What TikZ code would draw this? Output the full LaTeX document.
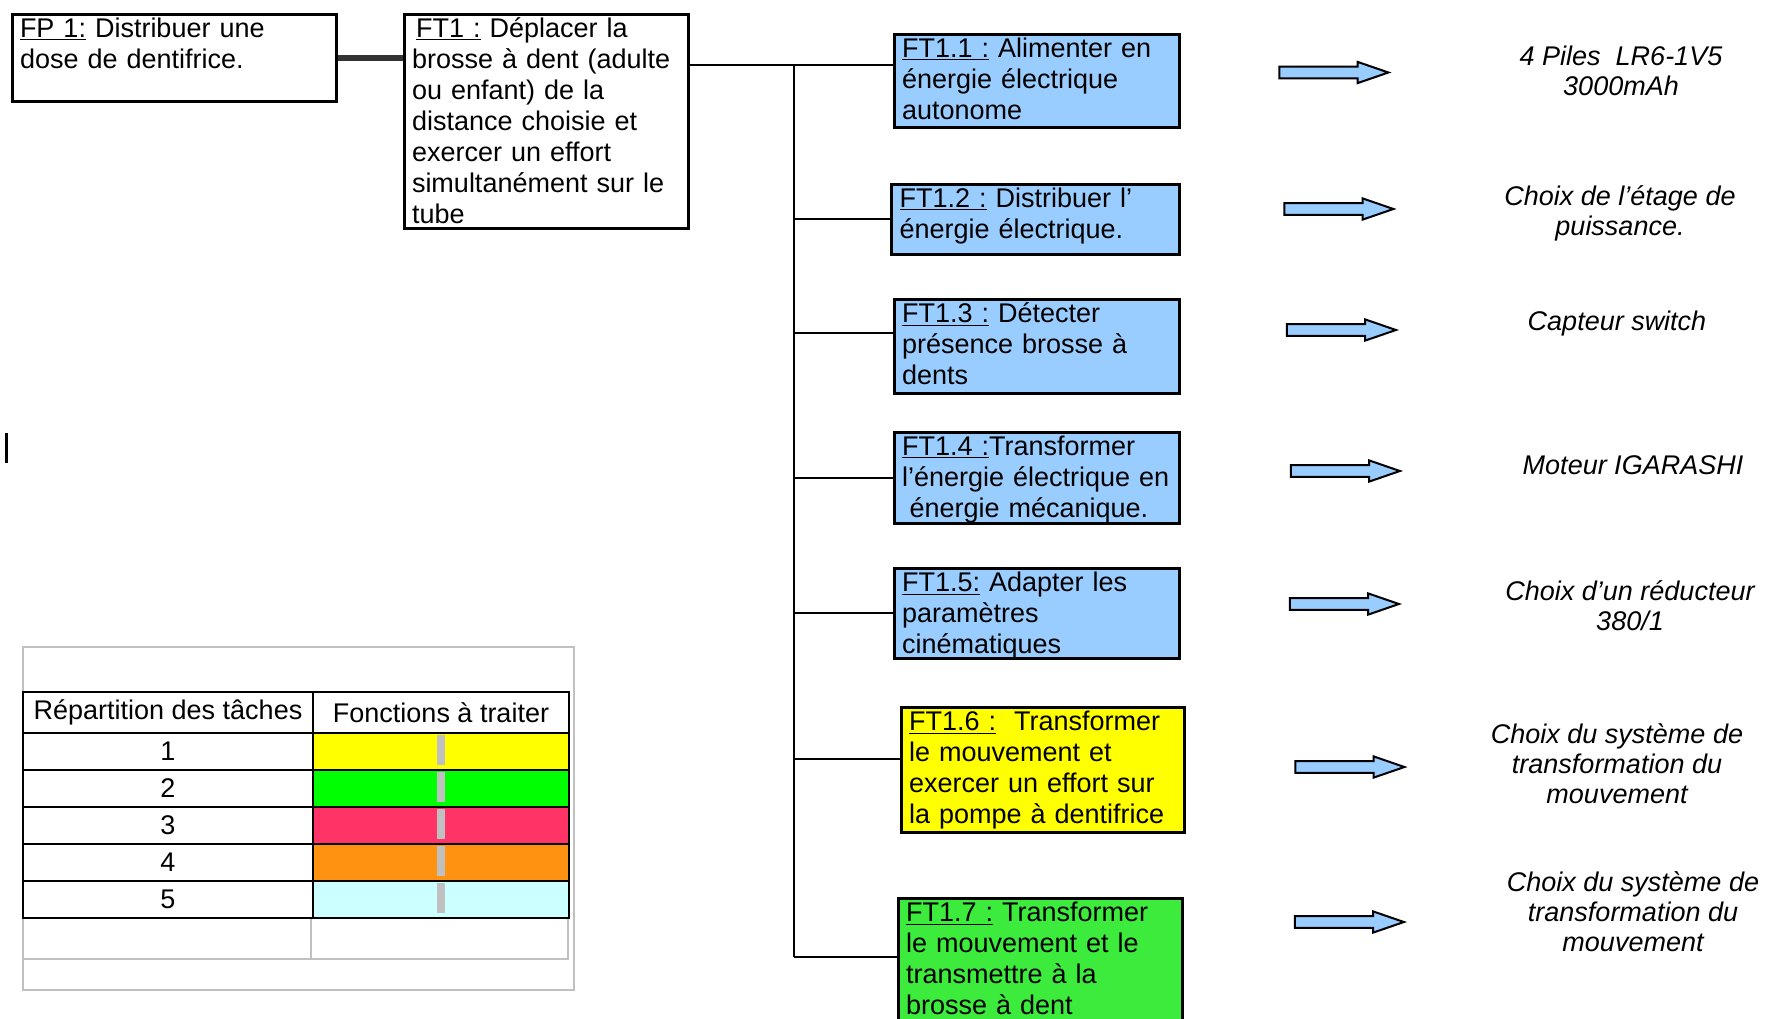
\documentclass[tikz,border=0pt]{standalone}
\usepackage{fontspec}
\setmainfont{Liberation Sans}
\usepackage{tikz}
\usetikzlibrary{positioning}
\usetikzlibrary{shapes.arrows}
\usetikzlibrary{calc}
\definecolor{boxblue}{RGB}{153,204,255}
\definecolor{boxyellow}{RGB}{255,255,0}
\definecolor{boxgreen}{RGB}{60,235,60}
\definecolor{tabyellow}{RGB}{255,255,0}
\definecolor{tabgreen}{RGB}{0,255,0}
\definecolor{tabred}{RGB}{255,51,102}
\definecolor{taborange}{RGB}{255,147,17}
\definecolor{tabcyan}{RGB}{204,255,255}
\definecolor{framegray}{RGB}{192,192,192}
\newcommand{\fsz}{\fontsize{13.5}{15.5}\selectfont}
\tikzstyle{funcbox}=[draw,line width=1.5pt,anchor=north west,align=left,inner xsep=4pt,inner ysep=1.5pt,text height=10pt,font=\fsz]
\tikzstyle{wire}=[line width=1pt]
\tikzstyle{blockarrow}=[single arrow,draw,line width=1pt,fill=boxblue,minimum height=54.5pt,inner xsep=0pt,inner ysep=2.4pt,single arrow head extend=2.4pt,single arrow tip angle=38]
\tikzstyle{result}=[align=center,inner sep=0pt,font=\itshape\fontsize{13.5}{15}\selectfont]
\tikzstyle{cell}=[draw,line width=1.4pt,anchor=north west,inner sep=0pt,outer sep=0pt,font=\fsz]

\begin{document}
\begin{tikzpicture}[x=0.5pt,y=-0.5pt]
\useasboundingbox (0,0) rectangle (1766,1018);

% functions
\node[funcbox,text width=154pt,text depth=30.5pt] (fp1) at (10.5,12.5) {\underline{FP 1:} Distribuer une\\dose de dentifrice.};
\node[funcbox,text width=134pt,text depth=94pt] (ft1) at (402.5,12.5) {\hspace*{2pt}\underline{FT1 :} Déplacer la\\brosse à dent (adulte\\ou enfant) de la\\distance choisie et\\exercer un effort\\simultanément sur le\\tube};

\node[funcbox,fill=boxblue,text width=134.5pt,text depth=33.5pt] (ft11) at (892.5,32.5) {\underline{FT1.1 :} Alimenter en\\énergie électrique\\autonome};
\node[funcbox,fill=boxblue,text width=135.75pt,text depth=22pt] (ft12) at (890,182.5) {\underline{FT1.2 :} Distribuer l'\\énergie électrique.};
\node[funcbox,fill=boxblue,text width=134.5pt,text depth=34pt] (ft13) at (892.5,297.5) {\underline{FT1.3 :} Détecter\\présence brosse à\\dents};
\node[funcbox,fill=boxblue,text width=134.5pt,text depth=32.5pt] (ft14) at (892.5,430.5) {\underline{FT1.4 :}Transformer\\l'énergie électrique en\\\hspace*{3.75pt}énergie mécanique.};
\node[funcbox,fill=boxblue,text width=134.5pt,text depth=32pt] (ft15) at (892.5,566.5) {\underline{FT1.5:} Adapter les\\paramètres\\cinématiques};
\node[funcbox,fill=boxyellow,text width=133.5pt,text depth=49.5pt] (ft16) at (899.5,705.5) {\underline{FT1.6 :}\ \ Transformer\\le mouvement et\\exercer un effort sur\\la pompe à dentifrice};
\node[funcbox,fill=boxgreen,text width=134.25pt,text depth=49.5pt] (ft17) at (896.5,897) {\underline{FT1.7 :} Transformer\\le mouvement et le\\transmettre à la\\brosse à dent};

% links
\draw[line width=3pt,black!80] (fp1.east) -- (fp1.east -| ft1.west);
\foreach \n/\d in {ft11/32.5,ft12/36.5,ft13/35.5,ft14/47.5,ft15/46.5,ft16/53.5,ft17/60}
  \coordinate (b\n) at ($(\n.north west)+(0,\d)$);
\coordinate (bus) at (794,65);
\draw[wire] (ft1.east |- bft11) -- (bft11);
\draw[wire] (bus) -- (bus |- bft17);
\foreach \n in {ft12,ft13,ft14,ft15,ft16,ft17}
  \draw[wire] (b\n -| bus) -- (b\n);

% solutions
\node[blockarrow] (arr1) at (1325.5,72.5) {};
\node[blockarrow] (arr2) at (1330.5,209) {};
\node[blockarrow] (arr3) at (1333,330) {};
\node[blockarrow] (arr4) at (1337,471) {};
\node[blockarrow] (arr5) at (1336,604) {};
\node[blockarrow] (arr6) at (1341.5,767) {};
\node[blockarrow] (arr7) at (1341,922) {};

\node[result] (res1) at (1621,71) {4 Piles\ \ LR6-1V5\\3000mAh};
\node[result] (res2) at (1620,213) {Choix de l'étage de\\puissance.};
\node[result] (res3) at (1617,324) {Capteur switch};
\node[result] (res4) at (1633,465) {Moteur IGARASHI};
\node[result] (res5) at (1630,606) {Choix d'un réducteur\\380/1};
\node[result] (res6) at (1617,764) {Choix du système de\\transformation du\\mouvement};
\node[result] (res7) at (1633,912) {Choix du système de\\transformation du\\mouvement};

% table
\draw[line width=1.2pt,framegray] (23,647) rectangle (574,990);
\draw[line width=1.2pt,framegray] (23,959) -- (569,959);
\draw[line width=1.2pt,framegray] (311,918) -- (311,959) (568,918) -- (568,959);
\node[cell,minimum width=145pt,minimum height=20.5pt] (head1) at (23,692) {Répartition des tâches};
\node[cell,minimum width=128pt,minimum height=20.5pt] (head2) at (313,692) {Fonctions à traiter};
\foreach \i/\c in {1/tabyellow,2/tabgreen,3/tabred,4/taborange,5/tabcyan} {
  \node[cell,minimum width=145pt,minimum height=18.5pt] (num\i) at (23,{733+37*(\i-1)}) {\i};
  \node[cell,fill=\c,minimum width=128pt,minimum height=18.5pt] (fn\i) at (313,{733+37*(\i-1)}) {};
  \fill[framegray] ($(fn\i.north)+(-4,1.5)$) rectangle ($(fn\i.south)+(4,-5)$);
}

% cursor mark
\draw[line width=1.5pt] (6.5,433) -- (6.5,463);
\end{tikzpicture}
\end{document}
